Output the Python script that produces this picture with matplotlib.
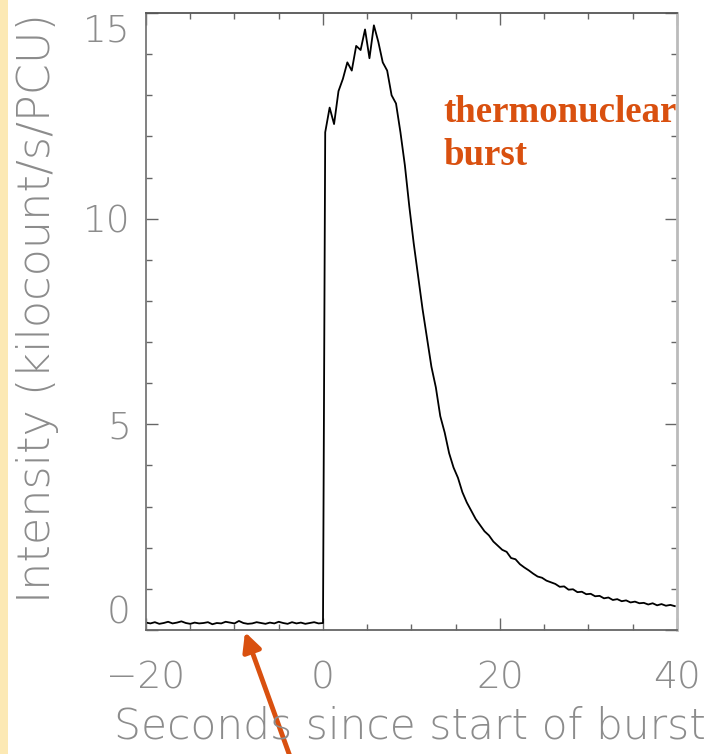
"""
Thermonuclear X-ray burst light curve: intensity vs seconds since burst start.
"""

import matplotlib.pyplot as plt
import matplotlib.patches as mpatches
import numpy as np

# Pre-burst persistent level, 0.5 s bins from -20 s to 0 s
pre_time = np.arange(-20.0, 0.01, 0.5)
pre_rate = [0.18, 0.16, 0.19, 0.15, 0.17, 0.20, 0.16, 0.18, 0.21, 0.17,
            0.15, 0.18, 0.16, 0.17, 0.19, 0.14, 0.17, 0.16, 0.20, 0.18,
            0.16, 0.22, 0.17, 0.15, 0.16, 0.19, 0.17, 0.15, 0.18, 0.16,
            0.20, 0.17, 0.15, 0.19, 0.16, 0.18, 0.15, 0.17, 0.19, 0.16,
            0.17]

# Burst, 0.5 s bins centred from 0.25 s to 39.75 s (kilocount/s/PCU)
burst_time = np.arange(0.25, 40.0, 0.5)
burst_rate = [12.1, 12.7, 12.3, 13.1, 13.4, 13.8, 13.6, 14.2, 14.1, 14.6,
              13.9, 14.7, 14.3, 13.8, 13.6, 13.0, 12.8, 12.1, 11.3, 10.3,
              9.4, 8.6, 7.8, 7.1, 6.4, 5.9, 5.2, 4.8, 4.3, 3.95,
              3.7, 3.35, 3.1, 2.9, 2.7, 2.55, 2.4, 2.3, 2.15, 2.05,
              1.95, 1.9, 1.75, 1.72, 1.6, 1.52, 1.45, 1.37, 1.3, 1.27,
              1.2, 1.16, 1.12, 1.05, 1.06, 0.98, 0.99, 0.92, 0.93, 0.87,
              0.88, 0.82, 0.83, 0.77, 0.79, 0.73, 0.75, 0.70, 0.72, 0.67,
              0.69, 0.65, 0.66, 0.62, 0.65, 0.60, 0.63, 0.59, 0.61, 0.58]

time = np.concatenate([pre_time, burst_time])
rate = np.concatenate([pre_rate, burst_rate])

W, H = 713, 754
fig = plt.figure(figsize=(W / 100, H / 100), dpi=100)
fig.patch.set_facecolor('white')

# yellow strip down the left edge
fig.patches.append(mpatches.Rectangle((0, 0), 8 / W, 1, transform=fig.transFigure,
                                      facecolor='#fce9b4', edgecolor='none'))

ax = fig.add_axes([146 / W, (H - 630) / H, (677 - 146) / W, (630 - 13) / H])
ax.plot(time, rate, color='black', linewidth=1.3)

ax.set_xlim(-20, 40)
ax.set_ylim(0, 15)
ax.set_xticks([-20, 0, 20, 40])
ax.set_xticklabels(['\u221220', '0', '20', '40'])
ax.set_yticks([0, 5, 10, 15])
ax.set_xticks(np.arange(-20, 41, 5), minor=True)
ax.set_yticks(np.arange(0, 16, 1), minor=True)

font = dict(family=['DejaVu Sans'], fontweight='light')
label_color = '#8c8c8c'

ax.tick_params(which='both', direction='in', top=True, right=True,
               color='#666666', width=1.0)
ax.tick_params(which='major', length=8.5)
ax.tick_params(which='minor', length=4.5)
ax.tick_params(axis='x', which='major', pad=22, labelsize=27, labelcolor=label_color)
ax.tick_params(axis='y', which='major', pad=11, labelsize=27, labelcolor=label_color)
for lab in ax.get_xticklabels() + ax.get_yticklabels():
    lab.set_family(font['family'])
    lab.set_fontweight('light')
ylabs = ax.get_yticklabels()
ylabs[0].set_va('bottom')
ylabs[-1].set_va('top')

ax.spines['left'].set_color('#777777')
ax.spines['bottom'].set_color('#666666')
ax.spines['top'].set_color('#555555')
ax.spines['right'].set_color('#bbbbbb')
for s in ax.spines.values():
    s.set_linewidth(1.3)
ax.spines['right'].set_linewidth(2.0)

fig.text(38 / W, (H - 308) / H, 'Intensity (kilocount/s/PCU)', rotation=90,
         ha='center', va='center', fontsize=32, color=label_color, **font)
fig.text(410 / W, (H - 726) / H, 'Seconds since start of burst',
         ha='center', va='center', fontsize=30.5, color=label_color, **font)

serif = ['Liberation Serif', 'DejaVu Serif']
fig.text(443 / W, (H - 122) / H, 'thermonuclear', ha='left', va='baseline',
         fontsize=26.6, fontweight='bold', color='#d9500f', family=serif)
fig.text(443 / W, (H - 165) / H, 'burst', ha='left', va='baseline',
         fontsize=26.6, fontweight='bold', color='#d9500f', family=serif)

# arrow pointing at the pre-burst level
ax.annotate('', xy=(245, H - 632), xycoords='figure pixels',
            xytext=(292, -8), textcoords='figure pixels',
            arrowprops=dict(arrowstyle='-|>', color='#d9500f', lw=3.5,
                            mutation_scale=28, shrinkA=0, shrinkB=0),
            annotation_clip=False)

plt.savefig('out.png', dpi=100)
